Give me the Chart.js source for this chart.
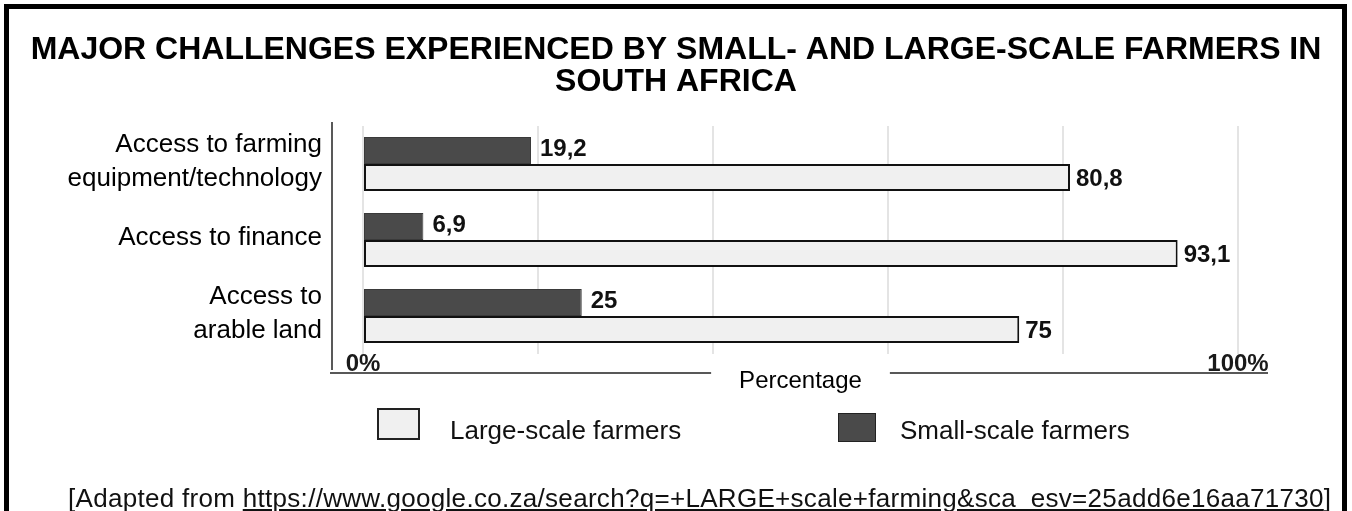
<!DOCTYPE html>
<html>
<head>
<meta charset="utf-8">
<script src="https://cdn.jsdelivr.net/npm/chart.js@4.4.1/dist/chart.umd.min.js"></script>
<style>
  html, body { margin: 0; padding: 0; background: #fff; }
  #wrap { position: relative; width: 1352px; height: 511px; overflow: hidden; font-family: "Liberation Sans", Arial, sans-serif; }
  #c { position: absolute; left: 0; top: 0; }
  #frame { position: absolute; left: 4px; top: 4px; width: 1333px; height: 600px; border: 5px solid #000; pointer-events: none; }
  .lg-box { position: absolute; box-sizing: border-box; }
  .lg-text { position: absolute; font-size: 26px; line-height: 30px; color: #111; white-space: nowrap; }
  #source { position: absolute; left: 68px; top: 484px; font-size: 26px; line-height: 29px; letter-spacing: 0.3px; color: #111; white-space: nowrap; }
</style>
</head>
<body>
<div id="wrap">
  <canvas id="c" width="1352" height="511"></canvas>
  <div id="legend"></div>
  <div id="source">[Adapted from <u>https://www.google.co.za/search?q=+LARGE+scale+farming&amp;sca_esv=25add6e16aa71730</u>]</div>
  <div id="frame"></div>
</div>
<script>
// ---------- data ----------
const titleLines = ["MAJOR CHALLENGES EXPERIENCED BY SMALL- AND LARGE-SCALE FARMERS IN", "SOUTH AFRICA"];
const categories = [["Access to farming", "equipment/technology"], "Access to finance", ["Access to", "arable land"]];
const smallScale = [19.2, 6.9, 25];
const largeScale = [80.8, 93.1, 75];
const seriesNames = ["Small-scale farmers", "Large-scale farmers"];
const xTickLabels = { 0: "0%", 100: "100%" };
const xAxisTitle = "Percentage";

const FAMILY = '"Liberation Sans", Arial, sans-serif';
const DARK = '#4a4a4a';
const LIGHT = '#f0f0f0';

const fmt = v => String(v).replace('.', ',');

// value labels next to bars
const valueLabels = {
  id: 'valueLabels',
  afterDatasetsDraw(chart) {
    const ctx = chart.ctx;
    ctx.save();
    ctx.font = 'bold 24px ' + FAMILY;
    ctx.fillStyle = '#111';
    ctx.textBaseline = 'middle';
    ctx.textAlign = 'left';
    chart.data.datasets.forEach((ds, di) => {
      const meta = chart.getDatasetMeta(di);
      meta.data.forEach((el, i) => {
        const off = di === 0 ? 9 : 6;
        const dy = di === 0 ? -1 : 2;
        ctx.fillText(fmt(ds.data[i]), el.x + off, el.y + dy);
      });
    });
    ctx.restore();
  }
};

// axis lines (y line left of plot, x line broken by the axis title)
const axisLines = {
  id: 'axisLines',
  afterDraw(chart) {
    const { ctx, chartArea } = chart;
    const xs = chart.scales.x;
    const yLineX = chartArea.left - 31;
    const xLineY = chartArea.bottom + 19;
    ctx.save();
    ctx.strokeStyle = '#222';
    ctx.lineWidth = 1.5;
    ctx.beginPath();
    ctx.moveTo(yLineX, chartArea.top - 4);
    ctx.lineTo(yLineX, xLineY - 3);
    ctx.stroke();
    ctx.font = '24px ' + FAMILY;
    const tw = ctx.measureText(xAxisTitle).width;
    const cx = (xs.left + xs.right) / 2;
    ctx.beginPath();
    ctx.moveTo(yLineX - 2, xLineY);
    ctx.lineTo(cx - tw / 2 - 28, xLineY);
    ctx.moveTo(cx + tw / 2 + 28, xLineY);
    ctx.lineTo(chartArea.right + 30, xLineY);
    ctx.stroke();
    ctx.restore();
  }
};

const chart = new Chart(document.getElementById('c'), {
  type: 'bar',
  data: {
    labels: categories,
    datasets: [
      { label: seriesNames[0], data: smallScale, backgroundColor: DARK, borderColor: '#3a3a3a', borderWidth: 1, borderSkipped: false, categoryPercentage: 0.71, barPercentage: 1 },
      { label: seriesNames[1], data: largeScale, backgroundColor: LIGHT, borderColor: '#111', borderWidth: 2, borderSkipped: false, categoryPercentage: 0.71, barPercentage: 1 }
    ]
  },
  options: {
    indexAxis: 'y',
    responsive: false,
    animation: false,
    layout: { padding: 0 },
    plugins: {
      legend: { display: false },
      tooltip: { enabled: false },
      title: {
        display: true,
        text: titleLines,
        color: '#000',
        font: { family: FAMILY, size: 32, weight: 'bold', lineHeight: 1.0 },
        padding: { top: 34, bottom: 28 }
      }
    },
    scales: {
      x: {
        min: 0, max: 100,
        ticks: {
          stepSize: 20, autoSkip: false, maxRotation: 0,
          callback: v => (xTickLabels[v] !== undefined ? xTickLabels[v] : ''),
          font: { family: FAMILY, size: 24, weight: 'bold' },
          color: '#1a1a1a',
          padding: -4
        },
        grid: { color: '#e4e4e4', lineWidth: 2, drawTicks: false },
        border: { display: false },
        title: { display: true, text: xAxisTitle, color: '#000', font: { family: FAMILY, size: 24 }, padding: { top: 0, bottom: 115 } },
        afterFit(s) { s.height = 157; }
      },
      y: {
        ticks: { font: { family: FAMILY, size: 26, lineHeight: 1.3 }, color: '#000', padding: 41, labelOffset: -2 },
        grid: { display: false, drawTicks: false },
        border: { display: false },
        afterFit(s) { s.width = 363; }
      },
      yRight: {
        type: 'linear', position: 'right', display: true,
        ticks: { display: false },
        grid: { display: false, drawTicks: false },
        border: { display: false },
        afterFit(s) { s.width = 114; }
      }
    }
  },
  plugins: [valueLabels, axisLines]
});

// HTML legend built from the datasets (Large-scale first, as in the reference)
(function buildLegend() {
  const lg = document.getElementById('legend');
  const items = [
    { ds: chart.data.datasets[1], box: { left: 377, top: 408, w: 43, h: 32, bw: 2 }, textLeft: 450 },
    { ds: chart.data.datasets[0], box: { left: 838, top: 413, w: 38, h: 29, bw: 1 }, textLeft: 900 }
  ];
  items.forEach(it => {
    const b = document.createElement('div');
    b.className = 'lg-box';
    b.style.cssText = `left:${it.box.left}px;top:${it.box.top}px;width:${it.box.w}px;height:${it.box.h}px;background:${it.ds.backgroundColor};border:${it.box.bw}px solid #222;`;
    lg.appendChild(b);
    const t = document.createElement('div');
    t.className = 'lg-text';
    t.style.left = it.textLeft + 'px';
    t.style.top = '415px';
    t.textContent = it.ds.label;
    lg.appendChild(t);
  });
})();
</script>
</body>
</html>
